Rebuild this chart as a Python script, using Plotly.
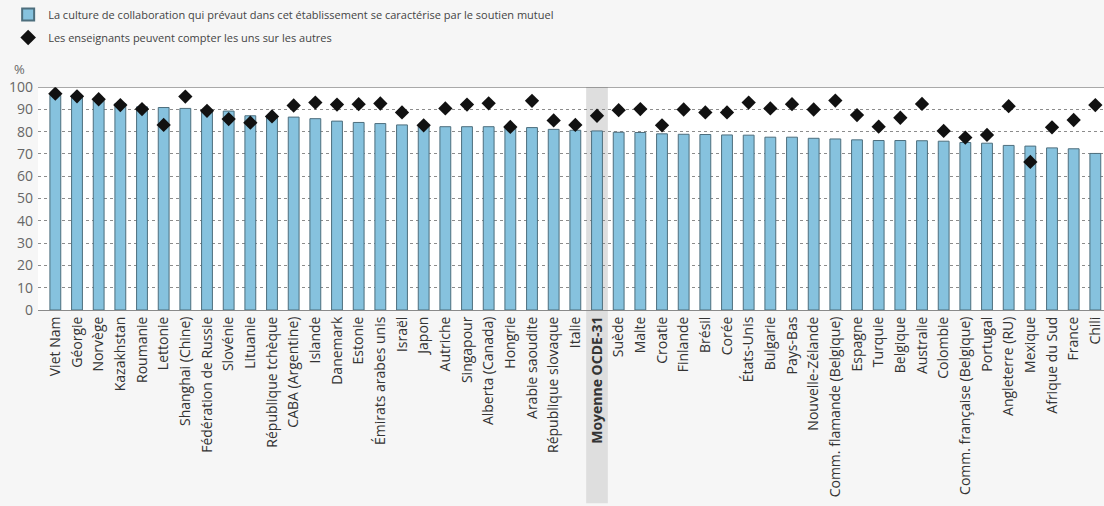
import plotly.graph_objects as go

categories = ["Viet Nam", "Géorgie", "Norvège", "Kazakhstan", "Roumanie", "Lettonie",
              "Shanghai (Chine)", "Fédération de Russie", "Slovénie", "Lituanie",
              "République tchèque", "CABA (Argentine)", "Islande", "Danemark", "Estonie",
              "Émirats arabes unis", "Israël", "Japon", "Autriche", "Singapour",
              "Alberta (Canada)", "Hongrie", "Arabie saoudite", "République slovaque",
              "Italie", "Moyenne OCDE-31", "Suède", "Malte", "Croatie", "Finlande",
              "Brésil", "Corée", "États-Unis", "Bulgarie", "Pays-Bas", "Nouvelle-Zélande",
              "Comm. flamande (Belgique)", "Espagne", "Turquie", "Belgique", "Australie",
              "Colombie", "Comm. française (Belgique)", "Portugal", "Angleterre (RU)",
              "Mexique", "Afrique du Sud", "France", "Chili"]

collab_culture = [96.3, 95.6, 94.1, 92.6, 91.1, 90.8, 90.4, 89.6, 89.2, 87.1,
                  86.7, 86.5, 85.8, 84.7, 84.1, 83.6, 83.0, 82.5, 82.2, 82.2,
                  82.2, 81.8, 81.8, 81.0, 80.6, 80.3, 79.7, 79.6, 79.0, 78.8,
                  78.7, 78.5, 78.4, 77.5, 77.5, 77.0, 76.7, 76.3, 76.0, 76.0,
                  75.9, 75.7, 75.1, 74.8, 73.8, 73.5, 72.7, 72.3, 70.2]

rely_on_each_other = [97.0, 95.8, 94.5, 91.9, 90.1, 83.0, 95.7, 89.3, 85.6, 84.0,
                      86.8, 91.7, 93.0, 92.1, 92.3, 92.6, 88.6, 82.8, 90.4, 92.1,
                      92.7, 82.1, 93.8, 85.0, 83.0, 87.1, 89.6, 90.1, 82.8, 89.9,
                      88.6, 88.6, 93.0, 90.4, 92.3, 89.9, 93.9, 87.4, 82.2, 86.2,
                      92.4, 80.3, 77.3, 78.5, 91.4, 66.4, 81.9, 85.2, 91.9]

highlight = "Moyenne OCDE-31"
y_ticks = [0, 10, 20, 30, 40, 50, 60, 70, 80, 90, 100]

ticktext = [f"<b>{c}</b>" if c == highlight else c for c in categories]
hi_idx = categories.index(highlight)

FONT = "Open Sans, Noto Sans, sans-serif"

fig = go.Figure()
fig.add_trace(go.Bar(
    x=categories, y=collab_culture, width=0.5, legendgroup="a",
    name="La culture de collaboration qui prévaut dans cet établissement se caractérise par le soutien mutuel",
    marker=dict(color="#86c2de", line=dict(color="#4d6e7d", width=1)),
))
fig.add_trace(go.Scatter(
    x=categories, y=rely_on_each_other, mode="markers", legendgroup="b",
    name="Les enseignants peuvent compter les uns sur les autres",
    marker=dict(symbol="diamond", size=11, color="#111111"),
))

fig.add_shape(type="rect", xref="x", yref="paper",
              x0=hi_idx - 0.5, x1=hi_idx + 0.5, y0=-0.867, y1=1,
              fillcolor="#dedede", line=dict(width=0), layer="below")
fig.add_shape(type="line", xref="paper", yref="y", x0=0, x1=1, y0=100, y1=100,
              line=dict(color="#555555", width=1.2))

fig.add_annotation(text="%", xref="paper", yref="paper", x=-0.017, y=1.08,
                   xanchor="center", yanchor="middle", showarrow=False,
                   font=dict(family=FONT, size=13, color="#666666"))

fig.update_layout(
    width=1104, height=506,
    margin=dict(l=38, r=0, t=85, b=196),
    paper_bgcolor="#f6f6f6", plot_bgcolor="#ffffff",
    font=dict(family=FONT, color="#333333"),
    bargap=0.5,
    showlegend=True,
    legend=dict(orientation="v", x=-0.028, y=1.39, xanchor="left", yanchor="top",
                bgcolor="rgba(0,0,0,0)", tracegroupgap=4, itemsizing="constant",
                font=dict(family=FONT, size=11, color="#444444")),
    xaxis=dict(
        type="category", range=[-0.8, 48.4],
        tickmode="array", tickvals=categories, ticktext=ticktext,
        tickangle=-90, ticks="", showgrid=False,
        showline=True, linecolor="#8a8a8a", linewidth=1,
        tickfont=dict(family=FONT, size=14, color="#333333"),
    ),
    yaxis=dict(
        range=[0, 100], tickvals=y_ticks, ticks="",
        showgrid=True, gridcolor="#8c8c8c", griddash="dot", gridwidth=1,
        zeroline=False, showline=False,
        tickfont=dict(family=FONT, size=14, color="#666666"),
        ticklabelstandoff=4,
    ),
)

fig.write_html(
    "out.html",
    config={"displayModeBar": False},
    post_script="document.body.style.margin='0';document.body.style.padding='0';"
                "document.body.style.background='#f6f6f6';",
)
